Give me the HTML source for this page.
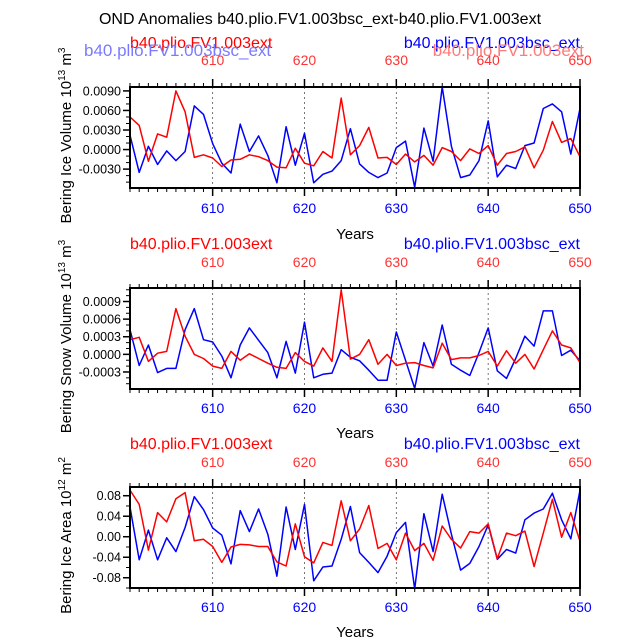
<!DOCTYPE html>
<html><head><meta charset="utf-8"><style>
body{margin:0;background:#fff;width:638px;height:639px;overflow:hidden}
svg{display:block;font-family:"Liberation Sans",sans-serif}
</style></head><body>
<svg id="chart" width="638" height="639" viewBox="0 0 638 639">
<text x="320" y="24" text-anchor="middle" font-size="16">OND Anomalies b40.plio.FV1.003bsc_ext-b40.plio.FV1.003ext</text>
</svg>
<script>
const years = [];
for (let y = 601; y <= 650; y++) years.push(y);
const xTicks = [610, 620, 630, 640, 650];
const volRed = [0.0050,0.0037,-0.0018,0.0024,0.0019,0.0090,0.0058,-0.0012,-0.0008,-0.0013,-0.0026,-0.0016,-0.0015,-0.0008,-0.0011,-0.0017,-0.0027,-0.0028,0.0002,-0.0021,-0.0025,-0.0003,-0.0013,0.0079,-0.0008,0.0006,0.0034,-0.0013,-0.0012,-0.0023,-0.0007,-0.0019,-0.0009,-0.0024,0.0003,-0.0003,-0.0017,0.0001,-0.0006,0.0006,-0.0024,-0.0006,-0.0003,0.0004,-0.0028,-0.0001,0.0043,0.0011,0.0017,-0.0011];
const volBlue = [0.0022,-0.0035,0.0005,-0.0023,-0.0002,-0.0017,-0.0003,0.0067,0.0054,0.0009,-0.0021,-0.0036,0.0039,-0.0003,0.0021,-0.0009,-0.0051,0.0035,-0.0024,0.0025,-0.0051,-0.0038,-0.0033,-0.0017,0.0032,-0.0022,-0.0035,-0.0043,-0.0036,0.0003,0.0013,-0.0058,0.0033,-0.0018,0.0096,0.0005,-0.0043,-0.0039,-0.0017,0.0044,-0.0042,-0.0024,-0.0029,0.0006,0.0010,0.0063,0.0070,0.0058,-0.0007,0.0063];
const snowRed = [0.00025,0.00029,-0.00012,0.00002,0.00005,0.00078,0.00031,0.0,-0.00007,-0.0002,-0.00024,0.00005,-0.0001,0.00001,-0.00007,-0.00015,-0.00022,-0.00024,0.00003,-0.00012,-0.0002,0.00011,-0.00012,0.0011,-0.00008,0.0,0.00025,-0.00017,0.0,-0.00019,-0.00015,-0.00014,-0.00019,-0.00023,0.00019,-0.00009,-0.00006,-0.00006,-0.00002,0.00005,-0.0002,0.00006,-0.00015,0.0,-0.00025,0.00008,0.0004,0.00016,0.00011,-0.00014];
const snowBlue = [0.00042,-0.00019,0.00016,-0.00031,-0.00024,-0.00024,0.00042,0.00078,0.00025,0.00021,-0.00003,-0.0004,0.00016,0.00045,0.00024,0.00003,-0.0004,0.00022,-0.00032,0.00055,-0.0004,-0.00034,-0.00032,0.00008,-0.00005,-0.00011,-0.00027,-0.00044,-0.00044,0.00038,-0.0001,-0.00058,0.0002,-0.0002,0.0005,-0.00017,-0.00027,-0.00036,0.00003,0.00045,-0.00028,-0.00041,-0.00007,0.00031,0.00014,0.00074,0.00074,-0.00002,0.00007,-0.00011];
const areaRed = [0.091,0.063,-0.026,0.047,0.029,0.074,0.086,-0.008,-0.005,-0.019,-0.05,-0.02,-0.015,-0.016,-0.019,-0.019,-0.049,-0.057,0.025,-0.039,-0.051,-0.011,-0.017,0.07,-0.008,0.015,0.061,-0.023,-0.013,-0.045,0.007,-0.027,-0.013,-0.046,0.021,-0.005,-0.022,0.01,0.007,0.025,-0.043,0.007,0.002,0.011,-0.058,0.007,0.073,-0.001,0.047,-0.009];
const areaBlue = [0.058,-0.045,0.013,-0.045,-0.002,-0.029,0.018,0.078,0.053,0.017,0.003,-0.053,0.051,0.01,0.054,0.005,-0.077,0.058,-0.025,0.063,-0.086,-0.059,-0.057,-0.005,0.059,-0.031,-0.05,-0.07,-0.038,0.008,0.028,-0.102,0.045,-0.029,0.083,0.005,-0.065,-0.052,-0.019,0.023,-0.044,-0.025,-0.032,0.033,0.046,0.054,0.085,0.033,-0.004,0.091];
const volTicks = [-0.003,0,0.003,0.006,0.009];
const volTickLabels = ["-0.0030","0.0000","0.0030","0.0060","0.0090"];
const snowTicks = [-0.0003,0,0.0003,0.0006,0.0009];
const snowTickLabels = ["-0.0003","0.0000","0.0003","0.0006","0.0009"];
const areaTicks = [-0.08,-0.04,0,0.04,0.08];
const areaTickLabels = ["-0.08","-0.04","0.00","0.04","0.08"];

const NS = "http://www.w3.org/2000/svg";
const svg = document.getElementById("chart");
function mk(tag, attrs, parent, text) {
  const e = document.createElementNS(NS, tag);
  for (const k in attrs) e.setAttribute(k, attrs[k]);
  if (text !== undefined) e.textContent = text;
  (parent || svg).appendChild(e);
  return e;
}
const X0 = 130, X1 = 580;
function xs(y) { return X0 + (y - 601) / 49 * (X1 - X0); }

const panels = [
  {name:"ice-volume", top:87, bot:188, ymin:-0.0059, ymax:0.0096, red:volRed, blue:volBlue, ticks:volTicks, labels:volTickLabels, minor:0.001, title:"Bering Ice Volume 10", sup:"13", unit:" m", sup2:"3", hy:48, topY:65, botY:213, yearsY:239, overlay:true},
  {name:"snow-volume", top:288, bot:389, ymin:-0.00059, ymax:0.00113, red:snowRed, blue:snowBlue, ticks:snowTicks, labels:snowTickLabels, minor:0.0001, title:"Bering Snow Volume 10", sup:"13", unit:" m", sup2:"3", hy:249, topY:267, botY:413, yearsY:438},
  {name:"ice-area", top:487, bot:588, ymin:-0.1, ymax:0.097, red:areaRed, blue:areaBlue, ticks:areaTicks, labels:areaTickLabels, minor:0.02, title:"Bering Ice Area 10", sup:"12", unit:" m", sup2:"2", hy:449, topY:467, botY:612, yearsY:637}
];

panels.forEach(p => {
  const g = mk("g", {});
  
  
  const ys = v => p.bot - (v - p.ymin) / (p.ymax - p.ymin) * (p.bot - p.top);
  const hr = mk("text", {x:X0, y:p.hy, "font-size":16, fill:"#f00"}, g, "b40.plio.FV1.003ext");
  
  
  const hb = mk("text", {x:X1, y:p.hy, "font-size":16, fill:"#00f", "text-anchor":"end"}, g, "b40.plio.FV1.003bsc_ext");
  
  
  if (p.overlay) {
    const o1 = mk("text", {x:84, y:56, "font-size":17, fill:"#7a7aff"}, g, "b40.plio.FV1.003bsc_ext");
    
    
    const o2 = mk("text", {x:584, y:56, "font-size":17, fill:"#ff7a7a", "text-anchor":"end"}, g, "b40.plio.FV1.003ext");
    
    
  }
  [610,620,630,640].forEach(t => {
    const l = mk("line", {x1:xs(t), x2:xs(t), y1:p.top, y2:p.bot, stroke:"#555", "stroke-width":0.8, "stroke-dasharray":"2,3"}, g);
    
    
  });
  years.forEach(y => {
    const major = y % 10 === 0;
    const len = major ? 8 : 4;
    mk("line", {x1:xs(y), x2:xs(y), y1:p.top, y2:p.top - len, stroke:"#000", "stroke-width":major?1.5:1}, g);
    mk("line", {x1:xs(y), x2:xs(y), y1:p.bot, y2:p.bot + len, stroke:"#000", "stroke-width":major?1.5:1}, g);
  });
  xTicks.forEach(t => {
    const a = mk("text", {x:xs(t), y:p.topY, "font-size":14, fill:"#f33", "text-anchor":"middle"}, g, String(t));
    
    
    const b = mk("text", {x:xs(t), y:p.botY, "font-size":14, fill:"#00f", "text-anchor":"middle"}, g, String(t));
    
    
  });
  const yt = mk("text", {x:355, y:p.yearsY, "font-size":15, "text-anchor":"middle"}, g, "Years");
  
  
  for (let v = Math.ceil(p.ymin / p.minor) * p.minor; v <= p.ymax; v += p.minor) {
    mk("line", {x1:X0, x2:X0 - 4, y1:ys(v), y2:ys(v), stroke:"#000", "stroke-width":1}, g);
  }
  p.ticks.forEach((t, i) => {
    mk("line", {x1:X0, x2:X0 - 7, y1:ys(t), y2:ys(t), stroke:"#000", "stroke-width":1.5}, g);
    const lb = mk("text", {x:X0 - 9, y:ys(t) + 4.5, "font-size":12.5, "text-anchor":"end"}, g, p.labels[i]);
    
    
  });
  const cy = (p.top + p.bot) / 2 - 2;
  const ttl = mk("text", {x:0, y:0, "font-size":15, transform:`translate(71 ${cy}) rotate(-90)`, "text-anchor":"middle"}, g);
  
  
  mk("tspan", {}, ttl, p.title);
  mk("tspan", {dy:-6, "font-size":10}, ttl, p.sup);
  mk("tspan", {dy:6}, ttl, p.unit);
  mk("tspan", {dy:-6, "font-size":10}, ttl, p.sup2);
  [[p.blue,"#00f","blue"],[p.red,"#f00","red"]].forEach(([arr,col,nm]) => {
    const pts = arr.map((v, i) => xs(years[i]).toFixed(1) + "," + ys(v).toFixed(1)).join(" ");
    const pl = mk("polyline", {points:pts, fill:"none", stroke:col, "stroke-width":1.5, "stroke-linejoin":"round"}, g);
    
    
  });
  const fr = mk("rect", {x:X0, y:p.top, width:X1 - X0, height:p.bot - p.top, fill:"none", stroke:"#000", "stroke-width":2}, g);
  
  
});
</script>
</body></html>
